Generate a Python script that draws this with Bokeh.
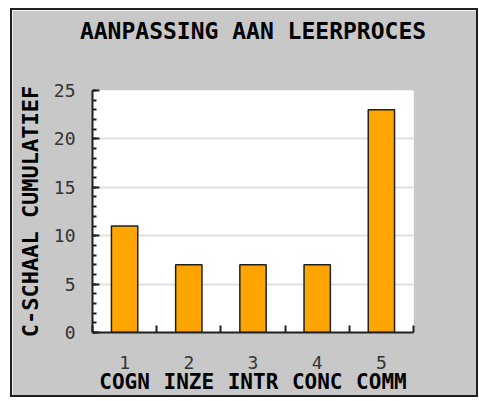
from bokeh.plotting import figure
from bokeh.models import FixedTicker, LinearAxis, Range1d, Title
from bokeh.embed import file_html
from bokeh.resources import INLINE

positions = [1, 2, 3, 4, 5]
names = ["COGN", "INZE", "INTR", "CONC", "COMM"]
values = [11, 7, 7, 7, 23]

FONT = "DejaVu Sans Mono"
BG = "#c8c8c8"

p = figure(width=468, height=389, output_backend="svg", toolbar_location=None,
           x_range=Range1d(0.5, 5.5), y_range=Range1d(0, 25),
           min_border_left=80, min_border_right=67, min_border_top=80, min_border_bottom=67,
           title="AANPASSING AAN LEERPROCES")
p.styles = {"border": "2px solid #202020", "box-sizing": "border-box",
            "margin-left": "10px", "margin-top": "8px"}
p.border_fill_color = BG
p.background_fill_color = "white"
p.outline_line_color = None

p.title.text_font = FONT
p.title.text_font_size = "23px"
p.title.text_font_style = "bold"
p.title.align = "center"
p.title.text_color = "black"
p.title.offset = 0
p.title.standoff = 0

# blank spacer between title and plot area
p.add_layout(Title(text=" ", text_font=FONT, text_font_size="22px", standoff=20), "above")

p.vbar(x=positions, top=values, width=0.41, fill_color="#ffa500",
       line_color="#202020", line_width=1.5)

# Y axis
ya = p.yaxis[0]
ya.ticker = FixedTicker(ticks=[0, 5, 10, 15, 20, 25], minor_ticks=list(range(0, 26)))
ya.axis_label = "C-SCHAAL CUMULATIEF"
ya.axis_label_text_font = FONT
ya.axis_label_text_font_style = "bold"
ya.axis_label_text_font_size = "22px"
ya.axis_label_text_color = "black"
ya.axis_label_standoff = 8
ya.major_label_text_font = FONT
ya.major_label_text_font_size = "18px"
ya.major_label_text_color = "#333333"
ya.major_label_standoff = 17
ya.major_tick_in = 7
ya.major_tick_out = 0
ya.minor_tick_in = 4
ya.minor_tick_out = 0
ya.axis_line_width = 2
ya.axis_line_color = "#202020"
ya.major_tick_line_width = 2
ya.major_tick_line_color = "#202020"
ya.minor_tick_line_width = 2
ya.minor_tick_line_color = "#202020"

# X axis (numbers)
xa = p.xaxis[0]
xa.ticker = FixedTicker(ticks=positions, minor_ticks=[0.5, 1.5, 2.5, 3.5, 4.5, 5.5])
xa.major_tick_in = 0
xa.major_tick_out = 0
xa.minor_tick_in = 7
xa.minor_tick_out = 0
xa.minor_tick_line_width = 2
xa.minor_tick_line_color = "#202020"
xa.axis_line_width = 2
xa.axis_line_color = "#202020"
xa.major_label_text_font = FONT
xa.major_label_text_font_size = "18px"
xa.major_label_text_color = "#333333"
xa.major_label_standoff = 23

# X axis (names)
xa2 = LinearAxis(ticker=FixedTicker(ticks=positions, minor_ticks=[]),
                 major_label_overrides={pos: n for pos, n in zip(positions, names)})
xa2.axis_line_color = None
xa2.major_tick_in = 0
xa2.major_tick_out = 0
xa2.minor_tick_in = 0
xa2.minor_tick_out = 0
xa2.major_label_text_font = FONT
xa2.major_label_text_font_size = "21px"
xa2.major_label_text_font_style = "bold"
xa2.major_label_text_color = "black"
xa2.major_label_standoff = -2
p.add_layout(xa2, "below")

p.xgrid.grid_line_color = None
p.ygrid.ticker = FixedTicker(ticks=[5, 10, 15, 20])
p.ygrid.grid_line_color = "#e0e0e0"
p.ygrid.grid_line_width = 2

open("out.html", "w").write(file_html(p, INLINE))
